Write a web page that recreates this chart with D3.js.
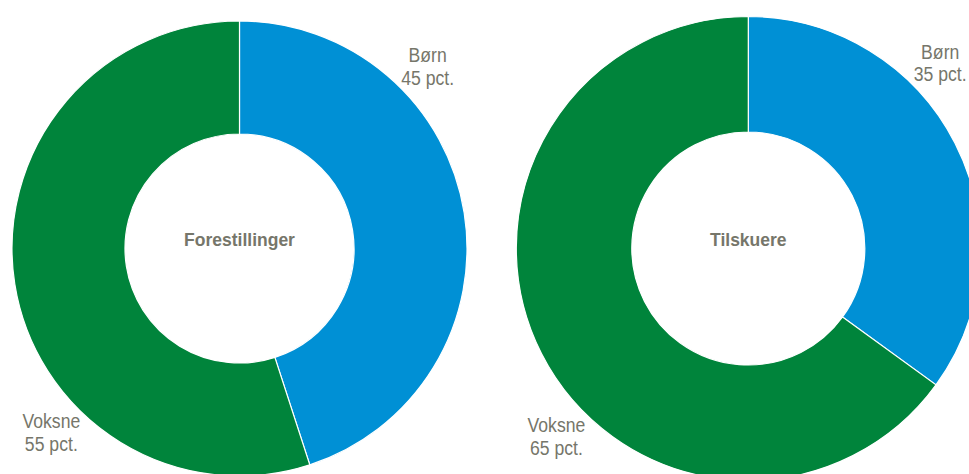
<!DOCTYPE html>
<html>
<head>
<meta charset="utf-8">
<script src="https://cdn.jsdelivr.net/npm/d3@7"></script>
<style>
    body { margin: 0; background: #fff; }
    svg { display: block; }
    text { font-family: "Liberation Sans", Arial, sans-serif; fill: #76766a; }
</style>
</head>
<body>
<svg id="drawing_region"></svg>
<script>
// data
const categories = ['Børn', 'Voksne'];
const titles = ['Forestillinger', 'Tilskuere'];
const forestillinger = [45, 55];
const tilskuere = [35, 65];
const colors = ['#0090d5', '#00843b'];

const width = 969, height = 474;
const narrow = 0.86; // squeeze Liberation Sans to look like Arial Narrow

const svg = d3.select('#drawing_region')
    .attr('width', width)
    .attr('height', height);

// one config per donut
const donuts = [
    { title: titles[0], values: forestillinger, cx: 239.5, cy: 248.5, outer: 227.5, inner: 114.5 },
    { title: titles[1], values: tilskuere,      cx: 748.3, cy: 248.5, outer: 232,   inner: 116.5 }
];

// label placement per category: angle (deg clockwise from top), distance as factor of outer radius
const labelAngle = [47, 224.6];
const labelDist = [1.131, 1.178];

const pie = d3.pie()
    .sort(null)
    .value(d => d.v);

donuts.forEach(cfg => {
    let data = categories.map((c, i) => ({ c: c, v: cfg.values[i], col: colors[i] }));

    let arc = d3.arc()
        .innerRadius(cfg.inner)
        .outerRadius(cfg.outer);

    let g = svg.append('g')
        .attr('transform', `translate(${cfg.cx}, ${cfg.cy})`);

    g.selectAll('.slice')
        .data(pie(data))
        .enter()
        .append('path')
        .attr('class', 'slice')
        .attr('d', arc)
        .attr('fill', d => d.data.col)
        .attr('stroke', 'white')
        .style('stroke-width', '1.2px');

    g.append('text')
        .attr('text-anchor', 'middle')
        .attr('y', -2.8)
        .style('font-size', '17.5px')
        .style('font-weight', 'bold')
        .text(cfg.title);

    // labels outside the ring
    let labels = g.selectAll('.lab')
        .data(pie(data))
        .enter()
        .append('text')
        .attr('class', 'lab')
        .attr('text-anchor', 'middle')
        .style('font-size', '20.5px')
        .attr('transform', (d, i) => {
            let a = labelAngle[i] * Math.PI / 180;
            let lr = cfg.outer * labelDist[i];
            return `translate(${lr * Math.sin(a)}, ${-lr * Math.cos(a)}) scale(${narrow}, 1)`;
        });

    labels.append('tspan')
        .attr('x', 0)
        .attr('y', -11)
        .text(d => d.data.c);

    labels.append('tspan')
        .attr('x', 0)
        .attr('y', 11.5)
        .text(d => d.data.v + ' pct.');
});
</script>
</body>
</html>
